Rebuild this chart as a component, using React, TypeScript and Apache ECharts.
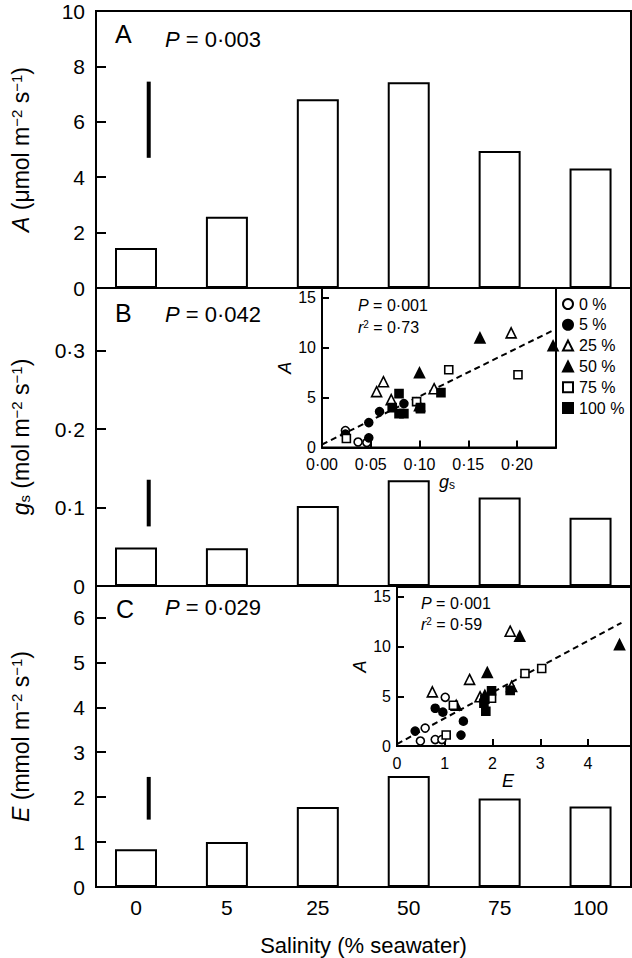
import React, { useEffect, useRef } from 'react';
import * as echarts from 'echarts';

// ---------- data ----------
const categories = ['0', '5', '25', '50', '75', '100'];
const netPhotosynthesis = [1.44, 2.57, 6.81, 7.43, 4.95, 4.31];
const stomatalConductance = [0.049, 0.048, 0.102, 0.135, 0.113, 0.087];
const transpiration = [0.84, 1.0, 1.78, 2.47, 1.97, 1.79];

const lsdPosition = 0.14;
const lsdA = [4.7, 7.45];
const lsdGs = [0.076, 0.1355];
const lsdE = [1.5, 2.45];

const pValueA = '0·003';
const pValueGs = '0·042';
const pValueE = '0·029';

const treatments = ['0 %', '5 %', '25 %', '50 %', '75 %', '100 %'];

// inset B: A vs gs
const gsA0 = [[0.024, 1.7], [0.037, 0.55], [0.046, 0.5]];
const gsA5 = [[0.024, 1.35], [0.048, 2.5], [0.048, 0.97], [0.059, 3.6], [0.084, 4.4]];
const gsA25 = [[0.056, 5.6], [0.063, 6.6], [0.071, 4.8], [0.115, 5.9], [0.194, 11.5]];
const gsA50 = [[0.1, 7.5], [0.1, 4.2], [0.162, 11.0], [0.237, 10.2]];
const gsA75 = [[0.025, 0.9], [0.097, 4.6], [0.101, 3.9], [0.13, 7.8], [0.201, 7.3]];
const gsA100 = [[0.072, 4.0], [0.079, 3.4], [0.084, 3.4], [0.079, 5.4], [0.122, 5.5], [0.101, 4.0]];
const gsFitX = [0, 0.236];
const gsFitY = [0.3, 11.7];
const gsStats = ['0·001', '0·73'];

// inset C: A vs E
const eA0 = [[0.49, 0.5], [0.59, 1.8], [0.8, 0.65], [0.94, 0.65], [1.01, 4.9]];
const eA5 = [[0.38, 1.5], [0.8, 3.8], [0.96, 3.4], [1.39, 2.5], [1.34, 1.1]];
const eA25 = [[0.74, 5.45], [1.52, 6.7], [1.74, 4.95], [2.37, 11.55], [2.4, 6.0]];
const eA50 = [[1.24, 4.1], [1.84, 5.1], [1.89, 7.4], [2.57, 11.05], [4.66, 10.2]];
const eA75 = [[1.03, 1.1], [1.18, 4.1], [1.98, 4.8], [2.68, 7.3], [3.03, 7.8]];
const eA100 = [[1.82, 4.3], [1.86, 3.5], [1.98, 5.55], [2.37, 5.6], [1.84, 4.7]];
const eFitX = [0, 4.7];
const eFitY = [0.2, 12.4];
const eStats = ['0·001', '0·59'];

// ---------- styling ----------
const FF = '"Liberation Sans", Arial, Helvetica, sans-serif';
const BLACK = '#000';
const NAME_SIZE = 23;
const TICK_SIZE = 21;

const nameRich = {
  i: { fontStyle: 'italic', fontSize: NAME_SIZE, fontFamily: FF, color: BLACK },
  sup: { fontSize: 15, fontFamily: FF, color: BLACK, verticalAlign: 'top', lineHeight: 12 },
  sub: { fontSize: 15, fontFamily: FF, color: BLACK, verticalAlign: 'bottom', lineHeight: 12 },
};

const dot = (v: number, d: number) => (v === 0 ? '0' : v.toFixed(d).replace('.', '·'));

function mainX(gridIndex: number, withLabels: boolean) {
  return {
    type: 'value',
    gridIndex,
    min: -0.44,
    max: 5.445,
    axisLine: { show: true, onZero: false, lineStyle: { color: BLACK, width: 2 } },
    axisTick: { show: false },
    splitLine: { show: false },
    axisLabel: withLabels
      ? {
          customValues: [0, 1, 2, 3, 4, 5],
          formatter: (v: number) => categories[Math.round(v)],
          fontSize: TICK_SIZE,
          fontFamily: FF,
          color: BLACK,
          margin: 10,
        }
      : { show: false },
    name: withLabels ? 'Salinity (% seawater)' : '',
    nameLocation: 'middle',
    nameGap: 47,
    nameTextStyle: { fontSize: 22, fontFamily: FF, color: BLACK },
  };
}

function mainY(gridIndex: number, max: number, interval: number, fmt: (v: number) => string, name: string, showMax: boolean) {
  return {
    type: 'value',
    gridIndex,
    min: 0,
    max,
    interval,
    axisLine: { show: true, onZero: false, lineStyle: { color: BLACK, width: 2 } },
    axisTick: { show: true, inside: true, length: 10, lineStyle: { color: BLACK, width: 2 } },
    splitLine: { show: false },
    axisLabel: { fontSize: TICK_SIZE, fontFamily: FF, color: BLACK, margin: 11, formatter: fmt, showMaxLabel: showMax },
    name,
    nameLocation: 'middle',
    nameGap: 64,
    nameTextStyle: { fontSize: NAME_SIZE, fontFamily: FF, color: BLACK, rich: nameRich },
  };
}

function insetAxis(gridIndex: number, max: number, interval: number, fmt: (v: number) => string, name: string, isX: boolean, gap: number, pad: number[]) {
  return {
    type: 'value',
    gridIndex,
    min: 0,
    max,
    interval,
    axisLine: { show: true, onZero: false, lineStyle: { color: BLACK, width: 2 } },
    axisTick: { show: true, inside: true, length: 7, lineStyle: { color: BLACK, width: 2 } },
    splitLine: { show: false },
    axisLabel: { fontSize: 16, fontFamily: FF, color: BLACK, margin: isX ? 9 : 6, formatter: fmt, showMaxLabel: false },
    name,
    nameLocation: 'middle',
    nameGap: gap,
    nameTextStyle: {
      fontSize: 18,
      fontFamily: FF,
      color: BLACK,
      padding: pad,
      rich: {
        i: { fontStyle: 'italic', fontSize: 18, fontFamily: FF, color: BLACK },
        sub: { fontSize: 12, fontFamily: FF, color: BLACK, verticalAlign: 'bottom', lineHeight: 10 },
      },
    },
  };
}

const symbolDefs = [
  { symbol: 'circle', size: 8, fill: '#fff' },
  { symbol: 'circle', size: 8, fill: BLACK },
  { symbol: 'triangle', size: 10, fill: '#fff' },
  { symbol: 'triangle', size: 10, fill: BLACK },
  { symbol: 'rect', size: 8, fill: '#fff' },
  { symbol: 'rect', size: 8, fill: BLACK },
];

function scatterSeries(sets: number[][][], axisIndex: number) {
  return sets.map((d, k) => ({
    type: 'scatter',
    name: treatments[k],
    xAxisIndex: axisIndex,
    yAxisIndex: axisIndex,
    data: d,
    symbol: symbolDefs[k].symbol,
    symbolSize: symbolDefs[k].size,
    clip: false,
    z: 5,
    itemStyle: { color: symbolDefs[k].fill, borderColor: BLACK, borderWidth: 1.6, opacity: 1 },
  }));
}

function barSeries(values: number[], axisIndex: number) {
  return {
    type: 'bar',
    xAxisIndex: axisIndex,
    yAxisIndex: axisIndex,
    data: values.map((v, i) => [i, v]),
    barWidth: 42,
    itemStyle: { color: '#fff', borderColor: BLACK, borderWidth: 2 },
  };
}

function errSeries(range: number[], axisIndex: number) {
  return {
    type: 'line',
    xAxisIndex: axisIndex,
    yAxisIndex: axisIndex,
    data: range.map((v) => [lsdPosition, v]),
    symbol: 'none',
    lineStyle: { color: BLACK, width: 4, cap: 'butt' },
  };
}

function fitSeries(xs: number[], ys: number[], axisIndex: number) {
  return {
    type: 'line',
    xAxisIndex: axisIndex,
    yAxisIndex: axisIndex,
    data: xs.map((x, i) => [x, ys[i]]),
    symbol: 'none',
    z: 4,
    lineStyle: { color: BLACK, width: 2, type: [6, 4] },
  };
}

function gText(x: number, y: number, text: string, size: number, rich?: any) {
  return {
    type: 'text',
    x,
    y,
    z: 10,
    style: {
      text,
      fontSize: size,
      fontFamily: FF,
      fill: BLACK,
      verticalAlign: 'middle',
      rich,
    },
  };
}

function richFor(size: number) {
  return {
    i: { fontStyle: 'italic', fontSize: size, fontFamily: FF, fill: BLACK },
    n: { fontSize: size, fontFamily: FF, fill: BLACK },
    sup: { fontSize: Math.round(size * 0.65), fontFamily: FF, fill: BLACK, verticalAlign: 'top', lineHeight: Math.round(size * 0.6) },
  };
}

// one legend block per treatment so the rows sit at the reference spacing
const legendRowTop = 296;
const legendRowStep = 20.8;
const legends = treatments.map((t, k) => ({
  data: [t],
  orient: 'vertical',
  left: 562,
  top: legendRowTop + k * legendRowStep,
  padding: 0,
  itemWidth: 10,
  itemHeight: 10,
  selectedMode: false,
  textStyle: { fontSize: 16, fontFamily: FF, color: BLACK, padding: [0, 0, 0, 1] },
}));

export default function App() {
  const ref = useRef<HTMLDivElement>(null);
  useEffect(() => {
    if (!ref.current) return;
    const chart = echarts.init(ref.current, undefined, { renderer: 'svg' });
    const option: any = {
      animation: false,
      backgroundColor: '#fff',
      textStyle: { fontFamily: FF, color: BLACK },
      grid: [
        { left: 96, right: 1, top: 11, height: 277, show: true, borderColor: BLACK, borderWidth: 2, backgroundColor: 'transparent' },
        { left: 96, right: 1, top: 288, height: 298, show: true, borderColor: BLACK, borderWidth: 2, backgroundColor: 'transparent' },
        { left: 96, right: 1, top: 586, height: 301, show: true, borderColor: BLACK, borderWidth: 2, backgroundColor: 'transparent' },
        { left: 322, top: 288, width: 234, height: 159.5, show: true, borderColor: BLACK, borderWidth: 2, backgroundColor: 'transparent' },
        { left: 397, top: 587, width: 234, height: 159, show: true, borderColor: BLACK, borderWidth: 2, backgroundColor: 'transparent' },
      ],
      xAxis: [
        mainX(0, false),
        mainX(1, false),
        mainX(2, true),
        insetAxis(3, 0.24, 0.05, (v) => v.toFixed(2).replace('.', '·'), '{i|g}{sub|s}', true, 22, [0, 0, 0, 16]),
        insetAxis(4, 4.9, 1, (v) => String(v), '{i|E}', true, 22, [0, 12, 0, 0]),
      ],
      yAxis: [
        mainY(0, 10, 2, (v) => String(v), '{i|A} (μmol m{sup|−2} s{sup|−1})', true),
        mainY(1, 0.38, 0.1, (v) => dot(v, 1), '{i|g}{sub|s} (mol m{sup|−2} s{sup|−1})', false),
        mainY(2, 6.7, 1, (v) => String(v), '{i|E} (mmol m{sup|−2} s{sup|−1})', false),
        insetAxis(3, 16, 5, (v) => String(v), '{i|A}', false, 20, [0, 0, 0, 0]),
        insetAxis(4, 16, 5, (v) => String(v), '{i|A}', false, 20, [0, 0, 0, 0]),
      ],
      legend: legends,
      series: [
        barSeries(netPhotosynthesis, 0),
        barSeries(stomatalConductance, 1),
        barSeries(transpiration, 2),
        errSeries(lsdA, 0),
        errSeries(lsdGs, 1),
        errSeries(lsdE, 2),
        ...scatterSeries([gsA0, gsA5, gsA25, gsA50, gsA75, gsA100], 3),
        ...scatterSeries([eA0, eA5, eA25, eA50, eA75, eA100], 4),
        fitSeries(gsFitX, gsFitY, 3),
        fitSeries(eFitX, eFitY, 4),
      ],
      graphic: [
        gText(115, 34, 'A', 25),
        gText(165, 39, `{i|P}{n| = ${pValueA}}`, 22, richFor(22)),
        gText(115, 313, 'B', 25),
        gText(165, 314, `{i|P}{n| = ${pValueGs}}`, 22, richFor(22)),
        gText(116, 609, 'C', 25),
        gText(165, 607, `{i|P}{n| = ${pValueE}}`, 22, richFor(22)),
        gText(358, 305, `{i|P}{n| = ${gsStats[0]}}`, 16, richFor(16)),
        gText(358, 327, `{i|r}{sup|2}{n| = ${gsStats[1]}}`, 16, richFor(16)),
        gText(421, 603, `{i|P}{n| = ${eStats[0]}}`, 16, richFor(16)),
        gText(421, 624, `{i|r}{sup|2}{n| = ${eStats[1]}}`, 16, richFor(16)),
      ],
    };
    chart.setOption(option);
    return () => chart.dispose();
  }, []);
  return <div ref={ref} style={{ position: 'fixed', left: 0, top: 0, width: 632, height: 958 }} />;
}
